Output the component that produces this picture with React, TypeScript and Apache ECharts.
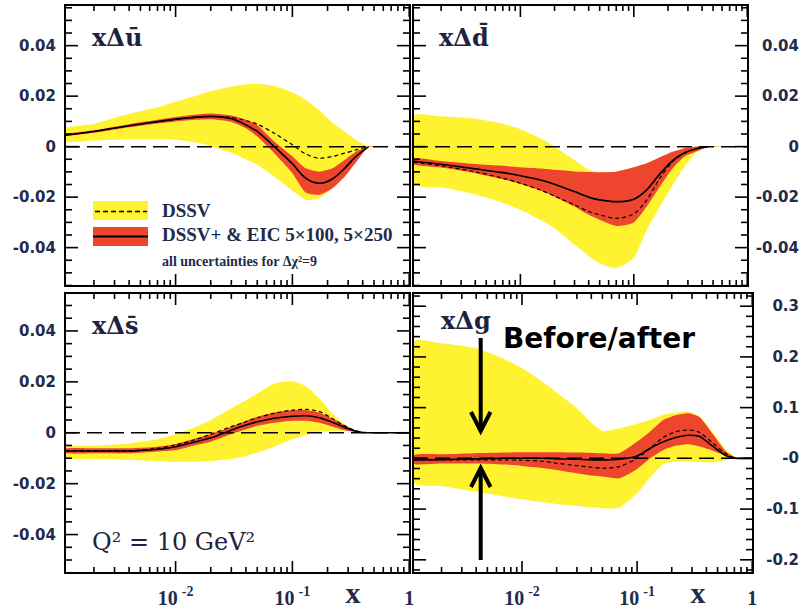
import { useEffect, useRef } from 'react';
import * as echarts from 'echarts';

// ---------------- data ----------------
const X = [0.00115, 0.002, 0.004, 0.007, 0.01, 0.015, 0.02, 0.03, 0.04, 0.05, 0.07, 0.1, 0.13, 0.17, 0.22, 0.28, 0.35, 0.45, 0.6, 0.75, 1.0];

// x Delta u-bar
const UBAR_DSSV_HI = [0.0073, 0.0090, 0.0130, 0.0156, 0.0178, 0.0202, 0.0219, 0.0238, 0.0247, 0.0248, 0.0240, 0.0214, 0.0185, 0.0143, 0.0095, 0.0060, 0.0027, 0, 0, 0, 0];
const UBAR_DSSV_LO = [0.0020, 0.0024, 0.0029, 0.0029, 0.0027, 0.0016, 0.0003, -0.0024, -0.0050, -0.0072, -0.0119, -0.0174, -0.0211, -0.0204, -0.0165, -0.0112, -0.0059, 0, 0, 0, 0];
const UBAR_DSSV = [0.0046, 0.0060, 0.0083, 0.0099, 0.0108, 0.0116, 0.0119, 0.0116, 0.0103, 0.0089, 0.0053, 0.0007, -0.0029, -0.0046, -0.0039, -0.0026, -0.0013, 0, 0, 0, 0];
const UBAR_EIC_HI = [0.0050, 0.0065, 0.0089, 0.0106, 0.0117, 0.0127, 0.0131, 0.0123, 0.0106, 0.0086, 0.0020, -0.0039, -0.0086, -0.0099, -0.0086, -0.0053, -0.0020, 0, 0, 0, 0];
const UBAR_EIC_LO = [0.0042, 0.0055, 0.0077, 0.0092, 0.0100, 0.0106, 0.0108, 0.0098, 0.0073, 0.0040, -0.0026, -0.0105, -0.0182, -0.0191, -0.0165, -0.0119, -0.0063, 0, 0, 0, 0];
const UBAR_EIC = [0.0046, 0.0060, 0.0083, 0.0099, 0.0109, 0.0117, 0.0120, 0.0111, 0.0086, 0.0060, 0.0000, -0.0068, -0.0125, -0.0145, -0.0128, -0.0086, -0.0039, 0, 0, 0, 0];

// x Delta d-bar
const DBAR_DSSV_HI = [0.0122, 0.0120, 0.0110, 0.0090, 0.0069, 0.0033, 0.0000, -0.0053, -0.0092, -0.0101, -0.0099, -0.0082, -0.0066, -0.0042, -0.0020, -0.0006, 0, 0, 0, 0, 0];
const DBAR_DSSV_LO = [-0.0149, -0.0161, -0.0189, -0.0222, -0.0250, -0.0290, -0.0323, -0.0389, -0.0433, -0.0462, -0.0482, -0.0440, -0.0330, -0.0237, -0.0152, -0.0079, -0.0026, 0, 0, 0, 0];
const DBAR_DSSV = [-0.0062, -0.0076, -0.0100, -0.0125, -0.0145, -0.0172, -0.0196, -0.0231, -0.0257, -0.0270, -0.0284, -0.0266, -0.0211, -0.0125, -0.0059, -0.0026, -0.0009, 0, 0, 0, 0];
const DBAR_EIC_HI = [-0.0045, -0.0057, -0.0069, -0.0076, -0.0082, -0.0087, -0.0092, -0.0098, -0.0100, -0.0101, -0.0099, -0.0082, -0.0066, -0.0042, -0.0020, -0.0006, 0, 0, 0, 0, 0];
const DBAR_EIC_LO = [-0.0071, -0.0083, -0.0105, -0.0129, -0.0148, -0.0174, -0.0198, -0.0237, -0.0270, -0.0290, -0.0314, -0.0300, -0.0237, -0.0158, -0.0086, -0.0039, -0.0020, 0, 0, 0, 0];
const DBAR_EIC = [-0.0058, -0.0070, -0.0088, -0.0103, -0.0115, -0.0132, -0.0149, -0.0178, -0.0200, -0.0211, -0.0218, -0.0208, -0.0171, -0.0108, -0.0055, -0.0024, -0.0009, 0, 0, 0, 0];

// x Delta s-bar
const SBAR_DSSV_HI = [-0.0055, -0.0051, -0.0042, -0.0026, -0.0005, 0.0024, 0.0050, 0.0096, 0.0128, 0.0154, 0.0193, 0.0202, 0.0183, 0.0135, 0.0076, 0.0034, 0.0004, 0, 0, 0, 0];
const SBAR_DSSV_LO = [-0.0100, -0.0103, -0.0107, -0.0111, -0.0114, -0.0114, -0.0111, -0.0103, -0.0091, -0.0078, -0.0055, -0.0026, -0.0009, 0.0004, 0.0008, 0.0008, 0.0004, 0, 0, 0, 0];
const SBAR_DSSV = [-0.0070, -0.0070, -0.0070, -0.0061, -0.0048, -0.0026, -0.0006, 0.0024, 0.0043, 0.0059, 0.0076, 0.0089, 0.0092, 0.0083, 0.0056, 0.0027, 0.0008, 0, 0, 0, 0];
const SBAR_EIC_HI = [-0.0061, -0.0061, -0.0061, -0.0055, -0.0044, -0.0022, -0.0005, 0.0024, 0.0047, 0.0063, 0.0080, 0.0089, 0.0089, 0.0079, 0.0056, 0.0030, 0.0008, 0, 0, 0, 0];
const SBAR_EIC_LO = [-0.0081, -0.0081, -0.0081, -0.0074, -0.0068, -0.0048, -0.0035, -0.0005, 0.0014, 0.0027, 0.0039, 0.0047, 0.0047, 0.0039, 0.0024, 0.0010, 0.0003, 0, 0, 0, 0];
const SBAR_EIC = [-0.0072, -0.0072, -0.0072, -0.0065, -0.0055, -0.0035, -0.0020, 0.0010, 0.0030, 0.0043, 0.0057, 0.0065, 0.0067, 0.0059, 0.0041, 0.0021, 0.0006, 0, 0, 0, 0];

// x Delta g
const G_DSSV_HI = [0.230, 0.227, 0.217, 0.196, 0.178, 0.151, 0.130, 0.099, 0.0705, 0.054, 0.059, 0.068, 0.076, 0.086, 0.0903, 0.092, 0.0823, 0.053, 0.0153, 0, 0];
const G_DSSV_LO = [-0.0478, -0.0543, -0.0655, -0.0754, -0.0806, -0.0865, -0.0898, -0.0937, -0.0964, -0.0983, -0.0970, -0.0690, -0.0370, -0.0110, -0.0064, -0.0064, -0.0077, -0.0077, -0.0030, 0, 0];
const G_DSSV = [-0.0030, -0.0030, -0.0030, -0.0030, -0.0037, -0.0057, -0.0096, -0.0143, -0.0175, -0.0195, -0.0162, 0.0002, 0.0200, 0.0416, 0.0528, 0.0560, 0.0508, 0.0310, 0.0087, 0, 0];
const G_EIC_HI = [0.0068, 0.0081, 0.0101, 0.0114, 0.0120, 0.0120, 0.0120, 0.0114, 0.0107, 0.0101, 0.0101, 0.0330, 0.0530, 0.0760, 0.0856, 0.0890, 0.0810, 0.0490, 0.0120, 0, 0];
const G_EIC_LO = [-0.0109, -0.0103, -0.0103, -0.0123, -0.0149, -0.0188, -0.0228, -0.0293, -0.0339, -0.0359, -0.0392, -0.0208, 0.0002, 0.0166, 0.0252, 0.0278, 0.0232, 0.0153, 0.0042, 0, 0];
const G_EIC = [-0.0030, -0.0024, -0.0010, 0.0003, 0.0003, 0.0003, -0.0010, -0.0017, -0.0030, -0.0030, -0.0017, 0.0048, 0.0200, 0.0330, 0.0416, 0.0456, 0.0430, 0.0245, 0.0048, 0, 0];

// axes / ticks
const XMIN = 0.00113;
const XMAX = 1.016;
const X_MAJOR = [0.01, 0.1, 1];
const X_MAJOR_BASE = ['10', '10', '1'];
const X_MAJOR_EXP = ['-2', '-1', ''];
const X_MINOR = [0.002, 0.003, 0.004, 0.005, 0.006, 0.007, 0.008, 0.009, 0.02, 0.03, 0.04, 0.05, 0.06, 0.07, 0.08, 0.09, 0.2, 0.3, 0.4, 0.5, 0.6, 0.7, 0.8, 0.9];

const Y_Q_MAJOR = [-0.04, -0.02, 0, 0.02, 0.04];
const Y_Q_LABELS = ['-0.04', '-0.02', '0', '0.02', '0.04'];
const Y_Q_MINOR = [-0.055, -0.05, -0.045, -0.035, -0.03, -0.025, -0.015, -0.01, -0.005, 0.005, 0.01, 0.015, 0.025, 0.03, 0.035, 0.045, 0.05, 0.055];
const Y_G_MAJOR = [-0.2, -0.1, 0, 0.1, 0.2, 0.3];
const Y_G_LABELS = ['-0.2', '-0.1', '-0', '0.1', '0.2', '0.3'];
const Y_G_MINOR = [-0.22, -0.18, -0.16, -0.14, -0.12, -0.08, -0.06, -0.04, -0.02, 0.02, 0.04, 0.06, 0.08, 0.12, 0.14, 0.16, 0.18, 0.22, 0.24, 0.26, 0.28, 0.32];

const TITLES = ['xΔū', 'xΔd̄', 'xΔs̄', 'xΔg'];
const LEGEND_TEXT = ['DSSV', 'DSSV+ & EIC 5×100, 5×250', 'all uncertainties for Δχ²=9'];

// ---------------- styling ----------------
const YELLOW = '#fff230';
const RED = '#ee452f';
const INK = '#222b4b';
const FRAME = { color: '#000', width: 2 };
const MAJOR_LEN = 12;
const MINOR_LEN = 6;
const TICK_W = 1.6;

type Panel = {
  left: number; top: number; width: number; height: number;
  ymin: number; ymax: number;
  yMajor: number[]; yLabels: string[]; yMinor: number[];
  ySide: 'left' | 'right'; yMargin: number; xLabels: boolean;
  dHi: number[]; dLo: number[]; d: number[];
  eHi: number[]; eLo: number[]; e: number[];
  lineEnd: number;
};

const PANELS: Panel[] = [
  { left: 65, top: 5, width: 345, height: 281, ymin: -0.0552, ymax: 0.0561, yMajor: Y_Q_MAJOR, yLabels: Y_Q_LABELS, yMinor: Y_Q_MINOR, ySide: 'left', yMargin: 9, xLabels: false,
    dHi: UBAR_DSSV_HI, dLo: UBAR_DSSV_LO, d: UBAR_DSSV, eHi: UBAR_EIC_HI, eLo: UBAR_EIC_LO, e: UBAR_EIC, lineEnd: 18 },
  { left: 413, top: 5, width: 340, height: 281, ymin: -0.0552, ymax: 0.0561, yMajor: Y_Q_MAJOR, yLabels: Y_Q_LABELS, yMinor: Y_Q_MINOR, ySide: 'right', yMargin: 51, xLabels: false,
    dHi: DBAR_DSSV_HI, dLo: DBAR_DSSV_LO, d: DBAR_DSSV, eHi: DBAR_EIC_HI, eLo: DBAR_EIC_LO, e: DBAR_EIC, lineEnd: 18 },
  { left: 65, top: 293, width: 345, height: 280, ymin: -0.0551, ymax: 0.0549, yMajor: Y_Q_MAJOR, yLabels: Y_Q_LABELS, yMinor: Y_Q_MINOR, ySide: 'left', yMargin: 9, xLabels: true,
    dHi: SBAR_DSSV_HI, dLo: SBAR_DSSV_LO, d: SBAR_DSSV, eHi: SBAR_EIC_HI, eLo: SBAR_EIC_LO, e: SBAR_EIC, lineEnd: 21 },
  { left: 413, top: 293, width: 340, height: 280, ymin: -0.226, ymax: 0.326, yMajor: Y_G_MAJOR, yLabels: Y_G_LABELS, yMinor: Y_G_MINOR, ySide: 'right', yMargin: 46, xLabels: true,
    dHi: G_DSSV_HI, dLo: G_DSSV_LO, d: G_DSSV, eHi: G_EIC_HI, eLo: G_EIC_LO, e: G_EIC, lineEnd: 21 },
];

function xLabelFormatter(v: number) {
  const k = X_MAJOR.findIndex((t) => Math.abs(Math.log10(t) - Math.log10(v)) < 1e-6);
  if (k < 0) return '';
  return X_MAJOR_EXP[k] ? `{b|${X_MAJOR_BASE[k]}}{s|${X_MAJOR_EXP[k]}}` : `{b|${X_MAJOR_BASE[k]}}`;
}

function buildXAxes(i: number, p: Panel) {
  const base = {
    type: 'log', logBase: 10, gridIndex: i, min: XMIN, max: XMAX, z: 11,
    splitLine: { show: false }, minorSplitLine: { show: false },
    axisLine: { show: true, onZero: false, lineStyle: FRAME }, axisPointer: { show: false },
    axisTick: { show: false }, minorTick: { show: false },
  };
  const label = p.xLabels
    ? {
        show: true, customValues: X_MAJOR, formatter: xLabelFormatter, margin: 11, color: INK,
        rich: {
          b: { fontFamily: 'Liberation Serif', fontWeight: 'bold', fontSize: 20, lineHeight: 24, verticalAlign: 'bottom', color: INK },
          s: { fontFamily: 'Liberation Serif', fontWeight: 'bold', fontSize: 14, lineHeight: 16, verticalAlign: 'top', padding: [0, 0, 0, 4], color: INK },
        },
      }
    : { show: false };
  return [
    { ...base, position: 'bottom', axisLabel: label },
    { ...base, position: 'top', axisLabel: { show: false } },
  ];
}

function buildYAxes(i: number, p: Panel) {
  const base = {
    type: 'value', gridIndex: i, min: p.ymin, max: p.ymax, z: 11,
    splitLine: { show: false }, minorSplitLine: { show: false },
    axisLine: { show: true, onZero: false, lineStyle: FRAME }, axisPointer: { show: false },
    axisTick: { show: false }, minorTick: { show: false },
  };
  const label = (side: string) =>
    p.ySide === side
      ? {
          show: true, customValues: p.yMajor, margin: p.yMargin, align: 'right',
          color: INK, fontFamily: 'DejaVu Sans', fontWeight: 'bold', fontSize: 15,
          formatter: (v: number) => {
            const k = p.yMajor.findIndex((t) => Math.abs(t - v) < 1e-9);
            return k < 0 ? '' : p.yLabels[k];
          },
        }
      : { show: false };
  return [
    { ...base, position: 'left', axisLabel: label('left') },
    { ...base, position: 'right', axisLabel: label('right') },
  ];
}

function band(i: number, hi: number[], lo: number[], color: string, z: number, name: string) {
  return {
    type: 'custom', name, coordinateSystem: 'cartesian2d', xAxisIndex: 2 * i, yAxisIndex: 2 * i,
    data: [[X[4], 0]], z, silent: true,
    renderItem: (params: any, api: any) => {
      if (params.dataIndex !== 0) return null;
      const pts: number[][] = [];
      for (let k = 0; k < X.length; k++) pts.push(api.coord([X[k], hi[k]]));
      for (let k = X.length - 1; k >= 0; k--) pts.push(api.coord([X[k], lo[k]]));
      return { type: 'polygon', shape: { points: pts, smooth: 0.2 }, style: { fill: color, stroke: null } };
    },
  };
}

// tick marks: thin rectangular symbols anchored on the frame, placed by the panel's own axes
function tickSeries(i: number, p: Panel) {
  const data: any[] = [];
  const addX = (vals: number[], len: number) =>
    vals.forEach((v) => {
      if (v < XMIN || v > XMAX) return;
      data.push({ value: [v, p.ymin], symbolSize: [TICK_W, len], symbolOffset: [0, -len / 2] });
      data.push({ value: [v, p.ymax], symbolSize: [TICK_W, len], symbolOffset: [0, len / 2] });
    });
  const addY = (vals: number[], len: number) =>
    vals.forEach((v) => {
      if (v < p.ymin || v > p.ymax) return;
      data.push({ value: [XMIN, v], symbolSize: [len, TICK_W], symbolOffset: [len / 2, 0] });
      data.push({ value: [XMAX, v], symbolSize: [len, TICK_W], symbolOffset: [-len / 2, 0] });
    });
  addX(X_MAJOR, MAJOR_LEN);
  addX(X_MINOR, MINOR_LEN);
  addY(p.yMajor, MAJOR_LEN + 1);
  addY(p.yMinor, MINOR_LEN + 1);
  return {
    type: 'scatter', name: 'ticks', xAxisIndex: 2 * i, yAxisIndex: 2 * i, data,
    symbol: 'rect', silent: true, z: 20, clip: false, large: false,
    itemStyle: { color: '#000', opacity: 1 },
  };
}

function buildSeries(i: number, p: Panel) {
  const pairs = (ys: number[]) => X.slice(0, p.lineEnd).map((x, k) => [x, ys[k]]);
  return [
    band(i, p.dHi, p.dLo, YELLOW, 1, 'DSSV band'),
    band(i, p.eHi, p.eLo, RED, 2, 'DSSV+ & EIC band'),
    {
      type: 'line', name: 'zero', xAxisIndex: 2 * i, yAxisIndex: 2 * i, data: [[XMIN, 0], [XMAX, 0]],
      symbol: 'none', silent: true, z: 3, lineStyle: { color: '#000', width: 1.5, type: [15, 7] },
    },
    {
      type: 'line', name: 'DSSV', xAxisIndex: 2 * i, yAxisIndex: 2 * i, data: pairs(p.d),
      smooth: 0.3, symbol: 'none', silent: true, z: 4, lineStyle: { color: '#000', width: 1.2, type: [4, 3] },
    },
    {
      type: 'line', name: 'DSSV+ & EIC', xAxisIndex: 2 * i, yAxisIndex: 2 * i, data: pairs(p.e),
      smooth: 0.3, symbol: 'none', silent: true, z: 5, lineStyle: { color: '#000', width: 1.6 },
    },
    tickSeries(i, p),
  ];
}

function txt(text: string, x: number, y: number, font: string, fill: string, align = 'left', valign = 'middle') {
  return { type: 'text', z: 100, silent: true, style: { text, x, y, font, fill, textAlign: align, textVerticalAlign: valign } };
}

function buildGraphics() {
  const g: any[] = [];
  const titleFont = 'bold 24px "DejaVu Serif"';
  g.push(txt(TITLES[0], 92, 37, titleFont, '#1d2340'));
  g.push(txt(TITLES[1], 439, 37, titleFont, '#1d2340'));
  g.push(txt(TITLES[2], 92, 325, titleFont, '#1d2340'));
  g.push(txt(TITLES[3], 441, 320, titleFont, '#1d2340'));
  // legend
  g.push({ type: 'rect', z: 100, silent: true, shape: { x: 93, y: 201, width: 55, height: 19 }, style: { fill: YELLOW } });
  g.push({ type: 'line', z: 101, silent: true, shape: { x1: 95, y1: 211.5, x2: 147, y2: 211.5 }, style: { stroke: '#000', lineWidth: 1.3, lineDash: [5, 3] } });
  g.push({ type: 'rect', z: 100, silent: true, shape: { x: 93, y: 227, width: 55, height: 19 }, style: { fill: RED } });
  g.push({ type: 'line', z: 101, silent: true, shape: { x1: 93, y1: 236.5, x2: 148, y2: 236.5 }, style: { stroke: '#000', lineWidth: 2 } });
  g.push(txt(LEGEND_TEXT[0], 162, 210.5, 'bold 19px "Liberation Serif"', INK));
  g.push(txt(LEGEND_TEXT[1], 162, 234, 'bold 19px "Liberation Serif"', INK));
  g.push(txt(LEGEND_TEXT[2], 162, 261, 'bold 14px "Liberation Serif"', INK));
  // Q^2
  g.push(txt('Q² = 10 GeV²', 92, 542, '24px "DejaVu Serif"', '#1d2340'));
  // axis names
  g.push(txt('x', 353, 607, 'bold 30px "Liberation Serif"', INK, 'center', 'bottom'));
  g.push(txt('x', 698, 607, 'bold 30px "Liberation Serif"', INK, 'center', 'bottom'));
  // annotation
  g.push(txt('Before/after', 503, 338.5, 'bold 28px "DejaVu Sans"', '#000'));
  const arrowStyle = { stroke: '#000', lineWidth: 4, fill: null };
  g.push({ type: 'line', z: 100, silent: true, shape: { x1: 480.7, y1: 338, x2: 480.7, y2: 430 }, style: { ...arrowStyle } });
  g.push({ type: 'polyline', z: 100, silent: true, shape: { points: [[471, 412], [480.7, 431], [490.5, 412]] }, style: { ...arrowStyle } });
  g.push({ type: 'line', z: 100, silent: true, shape: { x1: 480.7, y1: 560, x2: 480.7, y2: 469 }, style: { ...arrowStyle } });
  g.push({ type: 'polyline', z: 100, silent: true, shape: { points: [[471, 487], [480.7, 468], [490.5, 487]] }, style: { ...arrowStyle } });
  return g;
}

function buildOption() {
  return {
    animation: false,
    backgroundColor: '#fff',
    textStyle: { fontFamily: 'DejaVu Sans' },
    grid: PANELS.map((p) => ({
      left: p.left, top: p.top, width: p.width, height: p.height,
      show: true, borderColor: '#000', borderWidth: 2, backgroundColor: 'transparent', z: 10,
    })),
    xAxis: PANELS.flatMap((p, i) => buildXAxes(i, p)),
    yAxis: PANELS.flatMap((p, i) => buildYAxes(i, p)),
    series: PANELS.flatMap((p, i) => buildSeries(i, p)),
    graphic: buildGraphics(),
  };
}

export default function App() {
  const ref = useRef<HTMLDivElement>(null);
  useEffect(() => {
    if (!ref.current) return;
    const chart = echarts.init(ref.current, undefined, { renderer: 'svg' });
    chart.setOption(buildOption() as any);
    return () => chart.dispose();
  }, []);
  return <div ref={ref} style={{ position: 'absolute', left: 0, top: 0, width: 802, height: 609, background: '#fff' }} />;
}
